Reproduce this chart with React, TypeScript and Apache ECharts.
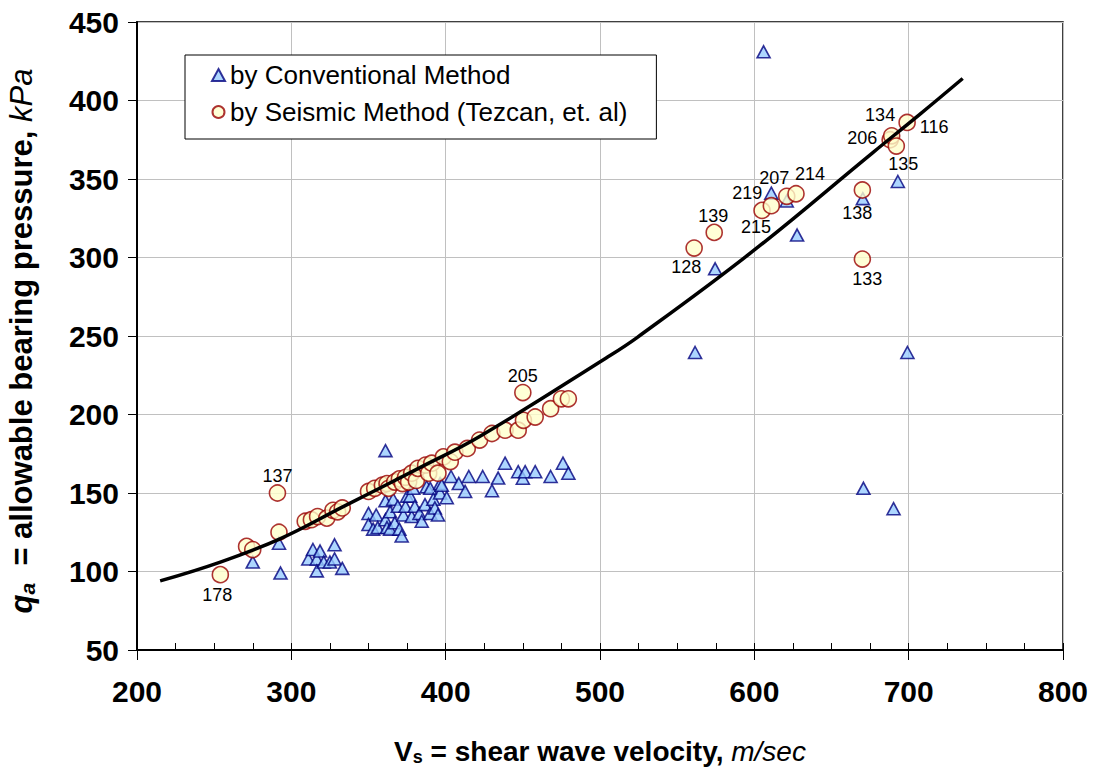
import React, { useEffect, useRef } from "react";
import * as echarts from "echarts";

// Conventional method: [Vs (m/sec), qa (kPa)]
const conventional: [number, number][] = [
  [275, 106], [292, 118], [293, 99],
  [311, 108], [314, 114], [316.5, 108], [316.5, 100.4], [318.6, 113], [321, 106], [325, 106], [328, 117], [328, 108], [333, 102],
  [350, 137], [350, 130], [353, 127], [355, 136], [356, 128], [361, 177], [361, 133], [361, 145], [362, 128], [364, 138], [364, 127],
  [366, 146], [367, 131], [369, 141.5], [370, 127], [372.6, 136], [371.5, 122.6], [374, 141.5], [375, 148], [377, 148], [378, 135],
  [379, 153], [380, 141.5], [383, 137], [384.5, 132], [386.6, 142.6], [387.7, 154], [390, 137], [390, 153], [392, 146], [393, 140.5],
  [395, 136], [396.4, 150], [396.4, 156], [397.5, 155], [400.7, 147], [403.5, 160.5], [408.5, 156], [412.6, 151], [415, 160.5],
  [424, 160.5], [430, 151.5], [434, 159.5], [438.5, 169], [447, 163.6], [450, 159.4], [451.5, 163.6], [458, 163.6], [468, 160.5],
  [476, 169], [479.5, 162.6],
  [561.6, 239.5], [574.6, 292.8], [606, 431], [611, 341], [621, 336], [627.7, 314.3], [670.3, 337.5], [670.7, 153], [690.2, 140],
  [693, 348.4], [699.2, 239.5],
];

// Seismic method (Tezcan, et. al): [Vs, qa]
const seismic: [number, number][] = [
  [254, 98], [271, 116], [275, 114], [292, 125], [291, 150], [309, 132], [313, 133], [317, 135], [323, 134], [327, 139], [330, 138],
  [333, 140.5], [350, 151], [354, 153], [359, 155], [362, 156], [363, 153], [367, 157], [370, 159], [372, 156], [374, 160], [376, 157],
  [378, 162.6], [381, 158], [382, 165.7], [387, 167.8], [389, 162.6], [391, 169], [395, 162.6], [398.5, 173], [403, 170], [406, 176],
  [414, 178.4], [422, 183.7], [430, 187.9], [438.5, 190], [447, 190], [450, 214], [450.4, 196.3], [458, 198.4], [468, 203.7],
  [475, 210], [479.5, 210],
  [561, 306], [574, 316], [605, 330], [611, 333], [621, 339], [627, 340.6], [670, 343], [670, 299], [688, 375], [689, 377.5],
  [692, 371], [699, 386],
];

// Fitted trend curve
const curveVs = [215, 254, 293, 332, 383, 422, 504, 524, 599, 677, 707, 735];
const curveQa = [94, 106, 121, 140.5, 166, 186, 236, 249, 304, 367, 391, 414];

// Point numbers
const labelNames = ["178", "137", "205", "128", "139", "215", "219", "207", "214", "138", "133", "206", "135", "134", "116"];
const labelVs = [254, 291, 450, 561, 574, 605, 611, 611, 627, 670, 670, 688, 692, 699, 699];
const labelQa = [98, 150, 214, 306, 316, 330, 333, 341, 340.6, 343, 299, 375, 371, 386, 386];
// pixel offsets of the label text from its point (layout only)
const labelOffsets: [number, number][] = [
  [-3, 20], [0, -17], [0, -17], [-8, 19], [-1, -16], [-6, 17], [-24, -13], [3, -15], [14, -20], [-5, 23], [5, 20], [-28, -2],
  [7, 18], [-27, -7], [27, 5],
];

const xTicks = [200, 300, 400, 500, 600, 700, 800];
const yTicks = [50, 100, 150, 200, 250, 300, 350, 400, 450];

const FONT = "'Liberation Sans', Arial, Helvetica, sans-serif";

export default function App() {
  const ref = useRef<HTMLDivElement>(null);
  useEffect(() => {
    if (!ref.current) return;
    const chart = echarts.init(ref.current, undefined, { renderer: "svg" });
    const gridColor = "#c0c0c0";
    const option: any = {
      animation: false,
      backgroundColor: "#ffffff",
      textStyle: { fontFamily: FONT, color: "#000" },
      grid: { left: 137, right: 31, top: 22, bottom: 116, show: true, borderColor: "#000", borderWidth: 1.5, backgroundColor: "transparent" },
      legend: {
        data: ["by Conventional Method", "by Seismic Method (Tezcan, et. al)"],
        orient: "vertical",
        left: 185,
        top: 55,
        backgroundColor: "#fff",
        borderColor: "#000",
        borderWidth: 1,
        borderRadius: 0,
        padding: [7, 29, 14, 26],
        itemGap: 11,
        itemWidth: 13,
        itemHeight: 12,
        textStyle: { fontSize: 26, fontFamily: FONT, color: "#000" },
      },
      graphic: [
        {
          type: "text",
          x: 21,
          y: 341,
          rotation: Math.PI / 2,
          silent: true,
          style: {
            text: "{qi|q}{qa|a}{b|  = allowable bearing pressure, }{i|kPa}",
            align: "center",
            verticalAlign: "middle",
            fill: "#000",
            rich: {
              qi: { fontSize: 31, fontWeight: "bold", fontStyle: "italic", fontFamily: FONT, fill: "#000", lineHeight: 34 },
              qa: { fontSize: 21, fontWeight: "bold", fontStyle: "italic", fontFamily: FONT, fill: "#000", lineHeight: 13, verticalAlign: "bottom" },
              b: { fontSize: 31, fontWeight: "bold", fontFamily: FONT, fill: "#000", lineHeight: 34 },
              i: { fontSize: 31, fontStyle: "italic", fontFamily: FONT, fill: "#000", lineHeight: 34 },
            },
          },
        },
      ],
      xAxis: [
        {
          type: "value",
          min: xTicks[0],
          max: xTicks[xTicks.length - 1],
          interval: 100,
          axisLine: { show: true, onZero: false, lineStyle: { color: "#000", width: 2 } },
          axisTick: { show: true, inside: true, length: 7, lineStyle: { color: "#000", width: 1 } },
          minorTick: { show: true, splitNumber: 4, length: 7, lineStyle: { color: "#000", width: 1 } },
          splitLine: { show: true, lineStyle: { color: gridColor, width: 1 } },
          axisLabel: { fontSize: 30, fontWeight: "bold", fontFamily: FONT, color: "#000", margin: 26 },
          name: "{b|V}{bs|s}{b| = shear wave velocity, }{i|m/sec}",
          nameLocation: "middle",
          nameGap: 86,
          nameTextStyle: {
            rich: {
              b: { fontSize: 28, fontWeight: "bold", fontFamily: FONT, color: "#000", lineHeight: 30 },
              bs: { fontSize: 18, fontWeight: "bold", fontFamily: FONT, color: "#000", lineHeight: 16, verticalAlign: "bottom" },
              i: { fontSize: 28, fontStyle: "italic", fontFamily: FONT, color: "#000", lineHeight: 30 },
            },
          },
        },
        {
          type: "value",
          min: xTicks[0],
          max: xTicks[xTicks.length - 1],
          interval: 100,
          position: "bottom",
          axisLine: { show: false },
          axisTick: { show: true, inside: false, length: 10, lineStyle: { color: "#000", width: 1 } },
          axisLabel: { show: false },
          splitLine: { show: false },
        },
      ],
      yAxis: {
        type: "value",
        min: yTicks[0],
        max: yTicks[yTicks.length - 1],
        interval: 50,
        axisLine: { show: true, onZero: false, lineStyle: { color: "#000", width: 2 } },
        axisTick: { show: true, inside: false, length: 9, lineStyle: { color: "#000", width: 1 } },
        splitLine: { show: true, lineStyle: { color: gridColor, width: 1 } },
        axisLabel: { fontSize: 30, fontWeight: "bold", fontFamily: FONT, color: "#000", margin: 18 },
      },
      series: [
        {
          name: "by Conventional Method",
          type: "scatter",
          symbol: "triangle",
          symbolSize: [13, 12],
          data: conventional,
          itemStyle: { color: "#99ccff", borderColor: "#000080", borderWidth: 1.6 },
          z: 2,
        },
        {
          name: "by Seismic Method (Tezcan, et. al)",
          type: "scatter",
          symbol: "circle",
          symbolSize: 16,
          data: seismic,
          itemStyle: { color: "#ffffcc", borderColor: "#990000", borderWidth: 1.6 },
          z: 3,
        },
        {
          name: "trend",
          type: "line",
          data: curveVs.map((v, i) => [v, curveQa[i]]),
          smooth: 0.4,
          showSymbol: false,
          symbol: "none",
          lineStyle: { color: "#000", width: 3.5 },
          z: 4,
          silent: true,
        },
        {
          name: "labels",
          type: "scatter",
          symbolSize: 2,
          itemStyle: { color: "rgba(0,0,0,0)", borderWidth: 0 },
          silent: true,
          z: 5,
          data: labelNames.map((n, i) => ({
            name: n,
            value: [labelVs[i], labelQa[i]],
            label: {
              show: true,
              position: "inside",
              offset: labelOffsets[i],
              formatter: n,
              fontSize: 18,
              fontFamily: FONT,
              color: "#000",
              opacity: 1,
            },
          })),
        },
      ],
    };
    chart.setOption(option);
    return () => chart.dispose();
  }, []);
  return <div ref={ref} style={{ position: "absolute", left: 0, top: 0, width: 1094, height: 771 }} />;
}
